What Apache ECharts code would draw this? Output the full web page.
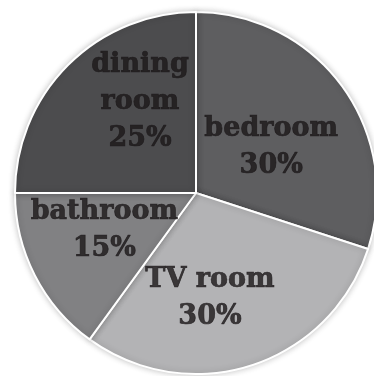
<!DOCTYPE html>
<html>
<head>
<meta charset="utf-8">
<script src="https://cdn.jsdelivr.net/npm/echarts@6/dist/echarts.min.js"></script>
<style>
  html, body { margin: 0; padding: 0; background: #ffffff; }
  #chart { width: 374px; height: 376px; }
</style>
</head>
<body>
<div id="chart"></div>
<script>
// Share of time spent in each room (percent)
const rooms = ['bedroom', 'TV room', 'bathroom', 'dining room'];
const shares = [30, 30, 15, 25];

// Label text per slice (room name broken onto lines, then percent)
const labelNames = ['bedroom', 'TV room', 'bathroom', 'dining\nroom'];

// Slice fills, grey scale
const sliceColors = ['#5e5e60', '#b3b3b5', '#818183', '#4c4c4e'];
// Nudges for the labels inside each slice
const labelNudges = [[2, 8], [-14, 19], [-11, -4], [8, -27]];

const CENTER = [196, 193];
const RADIUS = 181;

// Angular midpoint of every slice, on the 0..total scale
const total = shares.reduce((a, b) => a + b, 0);
const midpoints = [];
shares.reduce((acc, v) => { midpoints.push(acc + v / 2); return acc + v; }, 0);

const chart = echarts.init(document.getElementById('chart'), null, { renderer: 'canvas' });

const textStyle = {
  color: '#1c1819',
  fontFamily: 'DejaVu Serif',
  fontWeight: 'bold',
  fontSize: 27,
  lineHeight: 37,
  align: 'center',
  textBorderColor: '#1c1819',
  textBorderWidth: 0.7
};

chart.setOption({
  animation: false,
  backgroundColor: '#ffffff',
  // Polar frame matching the pie, used only to place the slice labels
  polar: { center: CENTER, radius: RADIUS },
  angleAxis: { type: 'value', min: 0, max: total, startAngle: 90, clockwise: true, show: false },
  radiusAxis: { type: 'value', min: 0, max: 1, show: false },
  series: [
    {
      type: 'pie',
      center: CENTER,
      radius: [0, RADIUS],
      startAngle: 90,
      clockwise: true,
      label: { show: false },
      labelLine: { show: false },
      itemStyle: {
        borderColor: '#ffffff',
        borderWidth: 2,
        shadowBlur: 6,
        shadowColor: 'rgba(0,0,0,0.22)'
      },
      emphasis: { disabled: true },
      data: rooms.map((name, i) => ({
        name: name,
        value: shares[i],
        itemStyle: { color: sliceColors[i] }
      }))
    },
    {
      // Slice labels, half way out along each slice's middle angle
      type: 'scatter',
      coordinateSystem: 'polar',
      symbolSize: 0,
      silent: true,
      z: 10,
      data: rooms.map((name, i) => ({
        name: name,
        value: [0.5, midpoints[i]],
        label: {
          show: true,
          position: 'inside',
          offset: labelNudges[i],
          formatter: labelNames[i] + '\n' + shares[i] + '%',
          ...textStyle
        }
      }))
    }
  ]
});
</script>
</body>
</html>
